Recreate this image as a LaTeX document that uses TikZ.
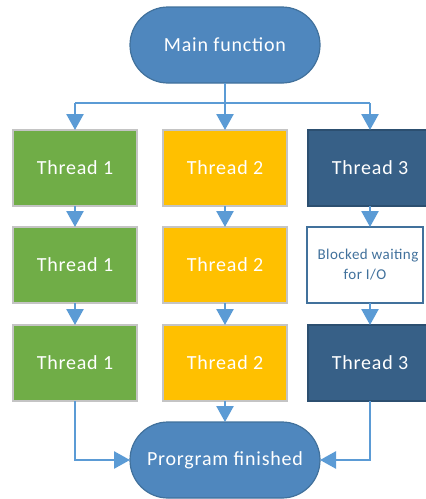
\documentclass[tikz,border=0pt]{standalone}
\usepackage{fontspec}
\setmainfont{Carlito}
\newfontfamily\spaced[LetterSpace=4]{Carlito}
\newfontfamily\spacedb[LetterSpace=3]{Carlito}
\usetikzlibrary{arrows.meta}
\definecolor{mainblue}{HTML}{4F87BE}
\definecolor{mainborder}{HTML}{41719C}
\definecolor{tgreen}{HTML}{70AD47}
\definecolor{tyellow}{HTML}{FFC000}
\definecolor{tdark}{HTML}{376087}
\definecolor{tdarkborder}{HTML}{2C4F70}
\definecolor{grayborder}{HTML}{C4C4C4}
\definecolor{arrowblue}{HTML}{5B9BD5}
\definecolor{blocktext}{HTML}{41719C}
\tikzset{
  terminal/.style={draw=mainborder, line width=1.2pt, fill=mainblue, rounded corners=38pt,
    minimum width=190pt, minimum height=76pt, inner sep=0pt, outer sep=0pt,
    text=white, font=\spaced\fontsize{20}{24}\selectfont},
  threadbox/.style={line width=1.5pt, minimum width=124pt, minimum height=76pt,
    inner sep=0pt, outer sep=0pt, text=white, font=\spaced\fontsize{20}{24}\selectfont},
  greenbox/.style={threadbox, draw=grayborder, fill=tgreen},
  yellowbox/.style={threadbox, draw=grayborder, fill=tyellow},
  darkbox/.style={threadbox, draw=tdarkborder, fill=tdark},
  blockbox/.style={draw=mainborder, line width=1.5pt, fill=white, minimum width=116pt,
    minimum height=76pt, inner sep=0pt, outer sep=0pt, text=blocktext, align=center,
    font=\spacedb\fontsize{15}{20}\selectfont},
  flow/.style={draw=arrowblue, line width=2.6pt,
    -{Triangle[length=16pt,width=17pt]}},
  line/.style={draw=arrowblue, line width=2.6pt}
}
\begin{document}
\begin{tikzpicture}[x=1pt,y=-1pt]
\useasboundingbox (0,0) rectangle (426,499);
\clip (0,0) rectangle (426,499);
\node[terminal] (main) at (225,45) {Main function};
\node[terminal] (fin) at (225,460) {Prorgram finished};
\node[greenbox] (g1) at (75,168) {Thread 1};
\node[greenbox] (g2) at (75,265) {Thread 1};
\node[greenbox] (g3) at (75,363) {Thread 1};
\node[yellowbox] (y1) at (225,168) {Thread 2};
\node[yellowbox] (y2) at (225,265) {Thread 2};
\node[yellowbox] (y3) at (225,363) {Thread 2};
\node[darkbox] (d1) at (370,168) {Thread 3};
\node[blockbox] (b2) at (365,265) {\hspace*{6pt}Blocked waiting\\for I/O};
\node[darkbox] (d3) at (370,363) {Thread 3};
\coordinate (split) at (225,103);
\coordinate (splitL) at (75,103);
\coordinate (splitR) at (370,103);
\path[line] (main.south) -- (split);
\path[line] (splitL) -- (splitR);
\path[flow] (splitL) -- (g1.north);
\path[flow] (split) -- (y1.north);
\path[flow] (splitR) -- (d1.north);
\path[flow] (g1) -- (g2);
\path[flow] (g2) -- (g3);
\path[flow] (y1) -- (y2);
\path[flow] (y2) -- (y3);
\path[flow] (d1.south) -- (d1.south |- b2.north);
\path[flow] (d1.south |- b2.south) -- (d3.north);
\path[flow] (g3.south) |- (fin.west);
\path[flow] (y3.south) -- (fin.north);
\path[flow] (d3.south) |- (fin.east);
\end{tikzpicture}
\end{document}
